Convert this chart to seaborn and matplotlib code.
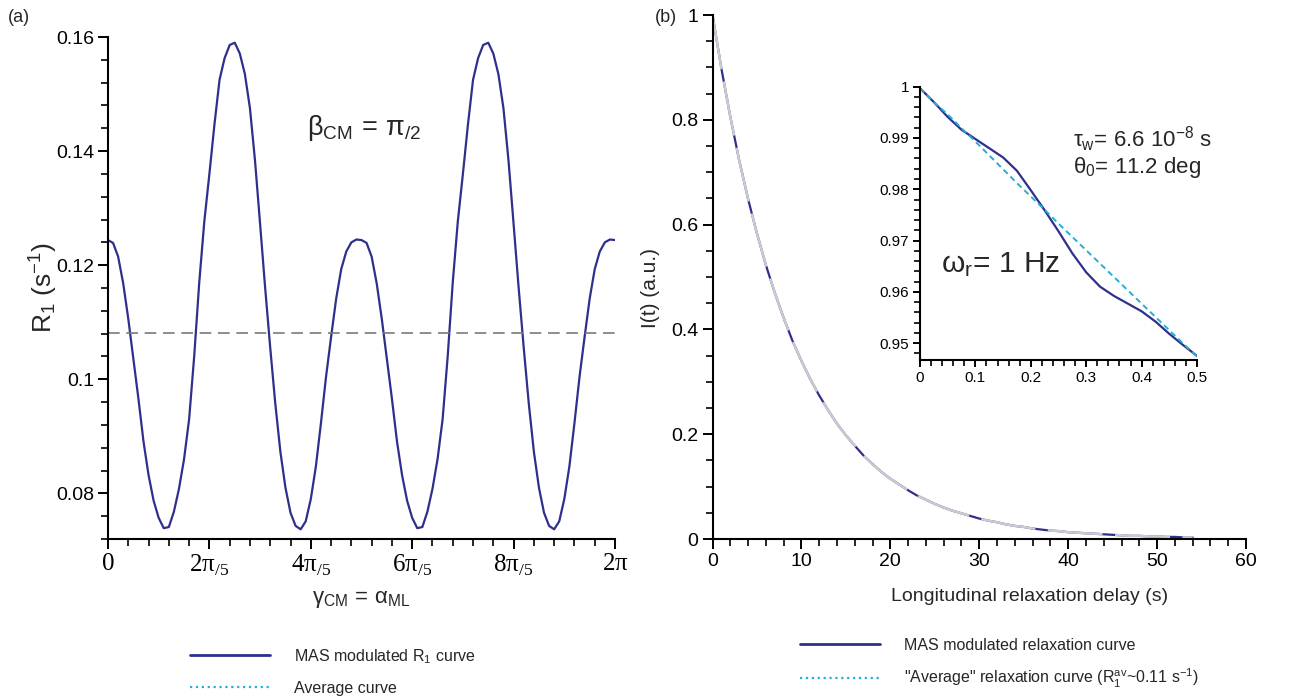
import numpy as np
import matplotlib
matplotlib.use("Agg")
import matplotlib.pyplot as plt
import seaborn as sns
from matplotlib.lines import Line2D
from matplotlib.ticker import MultipleLocator

# ---------------- data ----------------
# panel (a): R1 versus gamma_CM, sampled every 1/100 of a full turn (0 .. 2*pi)
gamma_turn_fraction = np.arange(101) / 100.0
r1_mas = [
    0.1244, 0.1239, 0.1215, 0.1168, 0.1106, 0.1036, 0.0966, 0.0891, 0.0832, 0.0787,
    0.0757, 0.0739, 0.0741, 0.0768, 0.0808, 0.0860, 0.0930, 0.1040, 0.1170, 0.1277,
    0.1360, 0.1447, 0.1525, 0.1563, 0.1586, 0.1590, 0.1571, 0.1535, 0.1475, 0.1383,
    0.1272, 0.1160, 0.1055, 0.0957, 0.0873, 0.0810, 0.0766, 0.0743, 0.0737, 0.0751,
    0.0790, 0.0847, 0.0923, 0.1004, 0.1074, 0.1141, 0.1193, 0.1224, 0.1240, 0.1245,
    0.1244,
    0.1239, 0.1215, 0.1168, 0.1106, 0.1036, 0.0966, 0.0891, 0.0832, 0.0787,
    0.0757, 0.0739, 0.0741, 0.0768, 0.0808, 0.0860, 0.0930, 0.1040, 0.1170, 0.1277,
    0.1360, 0.1447, 0.1525, 0.1563, 0.1586, 0.1590, 0.1571, 0.1535, 0.1475, 0.1383,
    0.1272, 0.1160, 0.1055, 0.0957, 0.0873, 0.0810, 0.0766, 0.0743, 0.0737, 0.0751,
    0.0790, 0.0847, 0.0923, 0.1004, 0.1074, 0.1141, 0.1193, 0.1224, 0.1240, 0.1245,
    0.1244,
]
r1_average = 0.1081
gamma_tick_labels = ["0", r"$\mathregular{2\pi}_{\mathregular{/5}}$",
                     r"$\mathregular{4\pi}_{\mathregular{/5}}$",
                     r"$\mathregular{6\pi}_{\mathregular{/5}}$",
                     r"$\mathregular{8\pi}_{\mathregular{/5}}$",
                     r"$\mathregular{2\pi}$"]
r1_ticks = [0.08, 0.10, 0.12, 0.14, 0.16]
r1_tick_labels = ["0.08", "0.1", "0.12", "0.14", "0.16"]

# panel (b): relaxation curves, t = 0 .. 54 s
delay_s = np.arange(55)
relax_mas = [
    1.000, 0.898, 0.806, 0.723, 0.649, 0.583, 0.523, 0.470, 0.422, 0.378,
    0.340, 0.305, 0.274, 0.246, 0.220, 0.198, 0.178, 0.159, 0.143, 0.128,
    0.115, 0.104, 0.093, 0.083, 0.075, 0.067, 0.060, 0.054, 0.049, 0.044,
    0.039, 0.035, 0.032, 0.028, 0.025, 0.023, 0.020, 0.018, 0.016, 0.015,
    0.013, 0.012, 0.011, 0.010, 0.009, 0.008, 0.007, 0.006, 0.006, 0.005,
    0.005, 0.004, 0.004, 0.003, 0.003,
]
relax_avg = list(relax_mas)
intensity_ticks = [0, 0.2, 0.4, 0.6, 0.8, 1.0]
intensity_tick_labels = ["0", "0.2", "0.4", "0.6", "0.8", "1"]

# inset: zoom 0 .. 0.5 s
inset_t = np.arange(21) * 0.025
inset_mas = [
    0.9997, 0.9970, 0.9941, 0.9916, 0.9898, 0.9880, 0.9862, 0.9836, 0.9798, 0.9759,
    0.9718, 0.9675, 0.9638, 0.9610, 0.9592, 0.9577, 0.9562, 0.9542, 0.9518, 0.9496,
    0.9475,
]
inset_avg = [
    0.9997, 0.9970, 0.9946, 0.9919, 0.9893, 0.9866, 0.9839, 0.9812, 0.9786, 0.9760,
    0.9733, 0.9707, 0.9681, 0.9655, 0.9629, 0.9603, 0.9577, 0.9551, 0.9525, 0.9499,
    0.9474,
]
inset_y_ticks = [0.95, 0.96, 0.97, 0.98, 0.99, 1.0]
inset_y_labels = ["0.95", "0.96", "0.97", "0.98", "0.99", "1"]
inset_x_ticks = [0, 0.1, 0.2, 0.3, 0.4, 0.5]
inset_x_labels = ["0", "0.1", "0.2", "0.3", "0.4", "0.5"]

# ---------------- style ----------------
sns.set_style("ticks")
plt.rcParams["font.family"] = ["Liberation Sans", "DejaVu Sans"]
plt.rcParams["mathtext.fontset"] = "custom"
plt.rcParams["mathtext.rm"] = "Liberation Sans"
plt.rcParams["mathtext.it"] = "Liberation Sans:italic"
plt.rcParams["mathtext.bf"] = "Liberation Sans:bold"
plt.rcParams["axes.edgecolor"] = "black"
plt.rcParams["xtick.color"] = "black"
plt.rcParams["ytick.color"] = "black"

NAVY = "#2f2f8c"
CYAN = "#25aed6"
GRAY_DASH = "#7a7a7a"
PALE = "#cacad2"

W, H = 1289, 696
fig = plt.figure(figsize=(W / 100, H / 100), dpi=100)


def frac_box(left, top, right, bottom):
    return [left / W, 1 - bottom / H, (right - left) / W, (bottom - top) / H]


def style_axes(ax, lab_size):
    sns.despine(ax=ax)
    for s in ("left", "bottom"):
        ax.spines[s].set_linewidth(1.5)
    ax.tick_params(which="major", direction="out", length=7, width=1.4, labelsize=lab_size, pad=3)
    ax.tick_params(which="minor", direction="out", length=5, width=1.2)


# ---------------- panel (a) ----------------
axA = fig.add_axes(frac_box(108, 37, 615, 539))
gamma = gamma_turn_fraction * 2 * np.pi
sns.lineplot(x=gamma, y=r1_mas, ax=axA, color=NAVY, lw=1.6, estimator=None, sort=False)
sns.lineplot(x=[gamma[0], gamma[-1]], y=[r1_average, r1_average], ax=axA, color=GRAY_DASH,
             lw=1.2, linestyle=(0, (7, 4)), estimator=None)
axA.set_xlim(0, 2 * np.pi)
axA.set_ylim(0.072, 0.16)
style_axes(axA, 14)
axA.set_xticks([k * 2 * np.pi / 5 for k in range(6)])
axA.set_xticklabels(gamma_tick_labels, fontfamily="Liberation Serif", fontsize=18)
axA.xaxis.set_minor_locator(MultipleLocator(2 * np.pi / 25))
axA.set_yticks(r1_ticks)
axA.set_yticklabels(r1_tick_labels)
axA.yaxis.set_minor_locator(MultipleLocator(0.004))
axA.set_ylabel(r"$\mathrm{R_1\ (s^{-1})}$", fontsize=19)
axA.yaxis.set_label_coords(-0.095, 0.50)
axA.set_xlabel(r"$\mathrm{\gamma_{CM}\,=\,\alpha_{ML}}$", fontsize=16)
axA.xaxis.set_label_coords(0.50, -0.10)
fig.text(307 / W, 1 - 128 / H, r"$\mathrm{\beta_{CM}\,=\,\pi_{/2}}$", fontsize=19.5, va="center")
fig.text(8 / W, 1 - 18 / H, "(a)", fontsize=13, va="center")

# ---------------- panel (b) ----------------
axB = fig.add_axes(frac_box(712.5, 15, 1246, 539))
sns.lineplot(x=delay_s, y=relax_mas, ax=axB, color=NAVY, lw=1.6, estimator=None, sort=False)
sns.lineplot(x=delay_s, y=relax_avg, ax=axB, color=PALE, lw=1.8, linestyle=(0, (22, 5)),
             estimator=None, sort=False)
axB.set_xlim(0, 60)
axB.set_ylim(0, 1)
style_axes(axB, 14)
axB.set_xticks(range(0, 61, 10))
axB.xaxis.set_minor_locator(MultipleLocator(2))
axB.set_yticks(intensity_ticks)
axB.set_yticklabels(intensity_tick_labels)
axB.yaxis.set_minor_locator(MultipleLocator(0.05))
axB.set_ylabel("I(t) (a.u.)", fontsize=15)
axB.yaxis.set_label_coords(-0.098, 0.479)
axB.set_xlabel("Longitudinal relaxation delay (s)", fontsize=14)
axB.xaxis.set_label_coords(0.595, -0.093)
fig.text(655 / W, 1 - 18 / H, "(b)", fontsize=13, va="center")

# ---------------- inset ----------------
axI = fig.add_axes(frac_box(920, 86.7, 1197, 360))
sns.lineplot(x=inset_t, y=inset_mas, ax=axI, color=NAVY, lw=1.6, estimator=None, sort=False)
sns.lineplot(x=inset_t, y=inset_avg, ax=axI, color=CYAN, lw=1.4, linestyle=(0, (3, 2)),
             estimator=None, sort=False)
axI.set_xlim(0, 0.5)
axI.set_ylim(0.9467, 1.0)
style_axes(axI, 11)
axI.tick_params(which="major", length=5)
axI.tick_params(which="minor", length=4)
axI.set_xticks(inset_x_ticks)
axI.set_xticklabels(inset_x_labels)
axI.xaxis.set_minor_locator(MultipleLocator(0.02))
axI.set_yticks(inset_y_ticks)
axI.set_yticklabels(inset_y_labels)
axI.yaxis.set_minor_locator(MultipleLocator(0.002))
axI.set_xlabel("")
axI.set_ylabel("")
fig.text(1073 / W, 1 - 139 / H, r"$\mathrm{\tau_w}$= 6.6 10$^{\mathrm{-8}}$ s", fontsize=16, va="center")
fig.text(1073 / W, 1 - 168 / H, r"$\mathrm{\theta_0}$= 11.2 deg", fontsize=16, va="center")
fig.text(941 / W, 1 - 265 / H, r"$\mathrm{\omega_r}$= 1 Hz", fontsize=21.5, va="center")

# ---------------- legends ----------------
leg_font = {"family": ["Liberation Sans"], "size": 11.5}
handles_a = [Line2D([], [], color=NAVY, lw=2), Line2D([], [], color=CYAN, lw=1.6, ls=":")]
fig.legend(handles_a, [r"MAS modulated R$_\mathrm{1}$ curve", "Average curve"],
           loc="upper left", bbox_to_anchor=(190 / W, 1 - 647 / H), frameon=False, prop=leg_font,
           handlelength=5.0, handletextpad=1.5, labelspacing=0.95, borderpad=0, borderaxespad=0)
handles_b = [Line2D([], [], color=NAVY, lw=2), Line2D([], [], color=CYAN, lw=1.6, ls=":")]
fig.legend(handles_b, ["MAS modulated relaxation curve",
                       r'"Average" relaxation curve (R$_\mathrm{1}^\mathrm{av}$~0.11 s$^\mathrm{-1}$)'],
           loc="upper left", bbox_to_anchor=(800 / W, 1 - 638 / H), frameon=False, prop=leg_font,
           handlelength=5.0, handletextpad=1.5, labelspacing=0.85, borderpad=0, borderaxespad=0)

fig.savefig("out.png", dpi=100)
